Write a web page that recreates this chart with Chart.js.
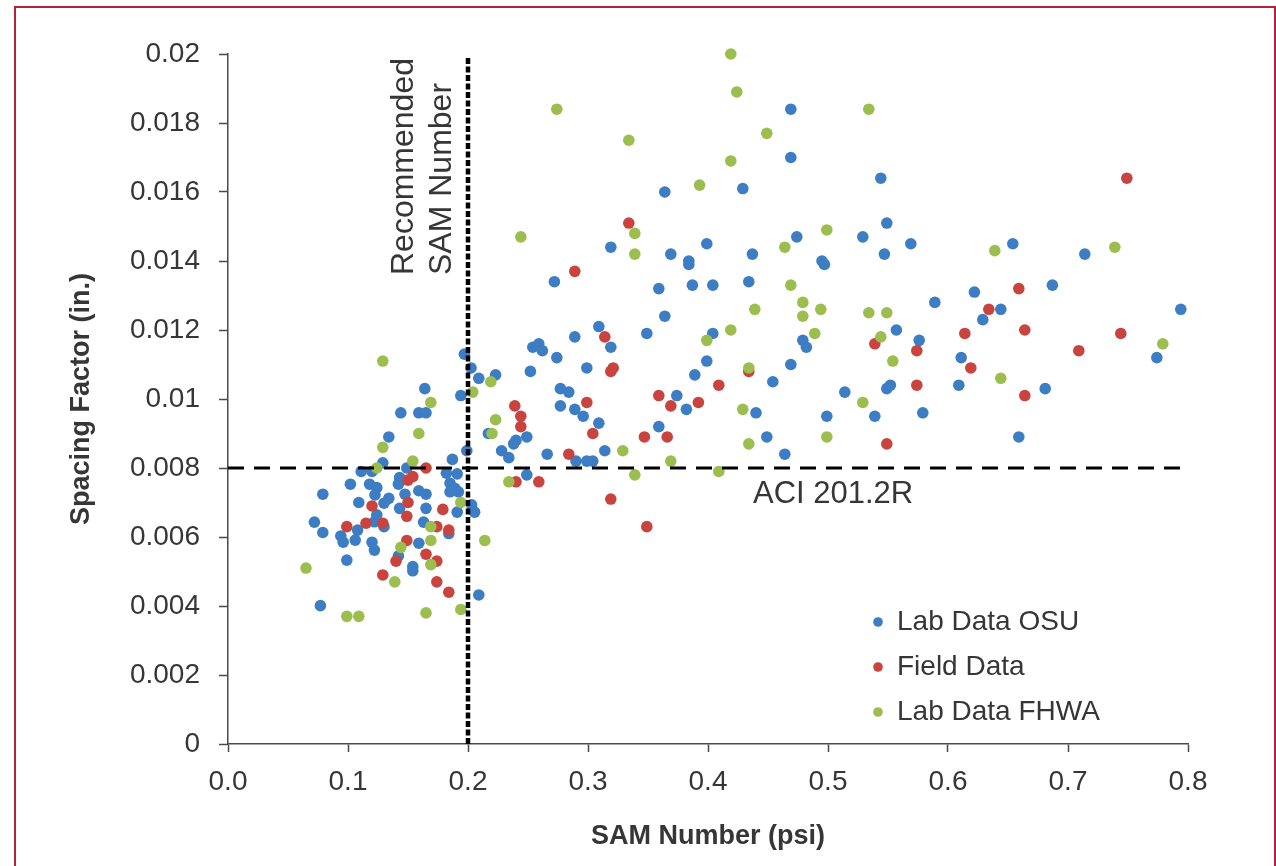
<!DOCTYPE html>
<html>
<head>
<meta charset="utf-8">
<script src="https://cdn.jsdelivr.net/npm/chart.js@4.4.1/dist/chart.umd.min.js"></script>
<style>
  html, body { margin: 0; padding: 0; background: #ffffff; }
  #wrap { position: relative; width: 1276px; height: 866px; overflow: hidden; }
  #c { position: absolute; left: 0; top: 0; }
  #frame { position: absolute; left: 14px; top: 6px; width: 1258px; height: 900px;
           border: 2px solid #B5203A; pointer-events: none; }
</style>
</head>
<body>
<div id="wrap">
  <canvas id="c" width="1276" height="866"></canvas>
  <div id="frame"></div>
</div>
<script>
// ---------------- data ----------------
const xTickValues = [0, 0.1, 0.2, 0.3, 0.4, 0.5, 0.6, 0.7, 0.8];
const xTickLabels = ['0.0', '0.1', '0.2', '0.3', '0.4', '0.5', '0.6', '0.7', '0.8'];
const yTickValues = [0, 0.002, 0.004, 0.006, 0.008, 0.01, 0.012, 0.014, 0.016, 0.018, 0.02];
const yTickLabels = ['0', '0.002', '0.004', '0.006', '0.008', '0.01', '0.012', '0.014', '0.016', '0.018', '0.02'];

const seriesNames = ['Lab Data OSU', 'Field Data', 'Lab Data FHWA'];

// [SAM Number (psi), Spacing Factor (in.)]
const labDataOSU = [
  [0.197,0.0113],[0.2025,0.0109],[0.209,0.0106],[0.223,0.0107],[0.164,0.0103],[0.194,0.0101],
  [0.144,0.0096],[0.159,0.0096],[0.165,0.0096],[0.217,0.0090],[0.228,0.0085],[0.134,0.0089],
  [0.199,0.0085],[0.129,0.00815],[0.187,0.00825],[0.111,0.0079],[0.120,0.0079],[0.149,0.0080],
  [0.182,0.00785],[0.191,0.00783],[0.102,0.00753],[0.118,0.00753],[0.124,0.00743],[0.143,0.00772],
  [0.142,0.00753],[0.159,0.00734],[0.165,0.00724],[0.185,0.00756],[0.189,0.00741],[0.185,0.00731],
  [0.192,0.00731],[0.079,0.00724],[0.1225,0.00722],[0.109,0.0070],[0.134,0.00712],[0.130,0.00698],
  [0.1475,0.00724],[0.143,0.00683],[0.165,0.00683],[0.203,0.00693],[0.2055,0.00672],[0.191,0.00672],
  [0.124,0.00664],[0.072,0.00643],[0.122,0.00644],[0.163,0.00643],[0.184,0.0061],[0.079,0.00613],
  [0.094,0.00603],[0.096,0.00585],[0.108,0.0062],[0.106,0.00591],[0.120,0.00585],[0.122,0.00562],
  [0.159,0.00582],[0.142,0.00545],[0.099,0.00533],[0.154,0.00514],[0.154,0.00502],[0.209,0.00432],
  [0.077,0.00401],[0.130,0.0063],
  [0.319,0.0144],[0.369,0.0142],[0.384,0.0140],[0.384,0.0139],[0.272,0.0134],[0.387,0.0133],
  [0.359,0.0132],[0.364,0.0124],[0.309,0.0121],[0.289,0.0118],[0.349,0.0119],[0.319,0.0115],
  [0.254,0.0115],[0.259,0.0116],[0.262,0.0114],[0.274,0.0112],[0.299,0.0109],[0.252,0.0108],
  [0.389,0.0107],[0.277,0.0103],[0.284,0.0102],[0.374,0.0101],[0.382,0.0097],[0.277,0.0098],
  [0.289,0.0097],[0.296,0.0095],[0.309,0.0093],[0.249,0.0089],[0.240,0.0088],[0.238,0.0087],
  [0.234,0.0083],[0.266,0.0084],[0.290,0.0082],[0.299,0.0082],[0.304,0.0082],[0.314,0.0085],
  [0.359,0.0092],[0.249,0.0078],[0.364,0.0160],
  [0.469,0.0184],[0.469,0.0170],[0.544,0.0164],[0.429,0.0161],[0.549,0.0151],[0.474,0.0147],
  [0.529,0.0147],[0.569,0.0145],[0.399,0.0145],[0.437,0.0142],[0.547,0.0142],[0.495,0.0140],
  [0.497,0.0139],[0.404,0.0133],[0.434,0.0134],[0.589,0.0128],[0.557,0.0120],[0.404,0.0119],
  [0.399,0.0111],[0.469,0.0110],[0.479,0.0117],[0.482,0.0115],[0.454,0.0105],[0.440,0.0096],
  [0.449,0.0089],[0.464,0.0084],[0.499,0.0095],[0.514,0.0102],[0.539,0.0095],[0.549,0.0103],
  [0.552,0.0104],[0.576,0.0117],[0.579,0.0096],
  [0.609,0.0104],[0.654,0.0145],[0.714,0.0142],[0.687,0.0133],[0.622,0.0131],[0.644,0.0126],
  [0.629,0.0123],[0.794,0.0126],[0.774,0.0112],[0.611,0.0112],[0.681,0.0103],[0.659,0.0089]
];

const fieldData = [
  [0.165,0.0080],[0.150,0.00765],[0.154,0.00775],[0.150,0.0070],[0.120,0.0069],[0.179,0.0068],
  [0.149,0.0066],[0.099,0.0063],[0.115,0.0064],[0.129,0.0064],[0.174,0.0063],[0.184,0.0062],
  [0.149,0.0059],[0.165,0.0055],[0.140,0.0053],[0.174,0.0053],[0.129,0.0049],[0.174,0.0047],
  [0.184,0.0044],
  [0.334,0.0151],[0.289,0.0137],[0.314,0.0118],[0.321,0.0109],[0.319,0.0108],[0.359,0.0101],
  [0.392,0.0099],[0.369,0.0098],[0.239,0.0098],[0.244,0.0095],[0.244,0.0092],[0.299,0.0099],
  [0.304,0.0090],[0.284,0.0084],[0.347,0.0089],[0.366,0.0089],[0.240,0.0076],[0.259,0.0076],
  [0.319,0.0071],[0.349,0.0063],
  [0.409,0.0104],[0.434,0.0108],[0.549,0.0087],[0.539,0.0116],[0.574,0.0114],[0.574,0.0104],
  [0.749,0.0164],[0.659,0.0132],[0.634,0.0126],[0.614,0.0119],[0.664,0.0120],[0.744,0.0119],
  [0.709,0.0114],[0.619,0.0109],[0.664,0.0101]
];

const labDataFHWA = [
  [0.129,0.0111],[0.219,0.0105],[0.204,0.0102],[0.169,0.0099],[0.223,0.0094],[0.220,0.0090],
  [0.159,0.0090],[0.129,0.0086],[0.154,0.0082],[0.124,0.0080],[0.194,0.0070],[0.169,0.0063],
  [0.169,0.0059],[0.144,0.0057],[0.214,0.0059],[0.169,0.0052],[0.065,0.0051],[0.139,0.0047],
  [0.099,0.0037],[0.109,0.0037],[0.165,0.0038],[0.194,0.0039],
  [0.339,0.0148],[0.339,0.0142],[0.244,0.0147],[0.329,0.0085],[0.369,0.0082],[0.339,0.0078],
  [0.234,0.0076],[0.274,0.0184],[0.334,0.0175],[0.393,0.0162],
  [0.419,0.0200],[0.424,0.0189],[0.534,0.0184],[0.449,0.0177],[0.419,0.0169],[0.499,0.0149],
  [0.464,0.0144],[0.469,0.0133],[0.479,0.0128],[0.479,0.0124],[0.439,0.0126],[0.494,0.0126],
  [0.534,0.0125],[0.549,0.0125],[0.419,0.0120],[0.399,0.0117],[0.434,0.0109],[0.489,0.0119],
  [0.429,0.0097],[0.434,0.0087],[0.499,0.0089],[0.529,0.0099],[0.554,0.0111],[0.544,0.0118],
  [0.409,0.0079],
  [0.639,0.0143],[0.739,0.0144],[0.779,0.0116],[0.644,0.0106]
];

// reference lines
const recommendedSamLine = [[0.2, 0], [0.2, 0.0199]];
const aciLine = [[0, 0.008], [0.8, 0.008]];
const annotationTexts = ['Recommended', 'SAM Number', 'ACI 201.2R'];

// ---------------- chart ----------------
const FONT = "'Liberation Sans', Arial, Helvetica, sans-serif";
const TEXT = '#363636';
const AXIS = '#4a4a4a';
const colors = ['#3C7DC4', '#C9433F', '#9BBE4F'];
const toXY = arr => arr.map(p => ({ x: p[0], y: p[1] }));

const pointSets = [labDataOSU, fieldData, labDataFHWA];
const datasets = pointSets.map((set, i) => ({
  label: seriesNames[i],
  data: toXY(set),
  backgroundColor: colors[i],
  borderWidth: 0,
  pointRadius: 5.8,
  pointHoverRadius: 5.8,
  showLine: false,
  clip: 10,
  order: 4 - i
}));
datasets.push({
  label: '_vline', data: toXY(recommendedSamLine), showLine: true, pointRadius: 0,
  borderColor: '#000', borderWidth: 4.5, borderDash: [6, 2.5], order: 0
});
datasets.push({
  label: '_hline', data: toXY(aciLine), showLine: true, pointRadius: 0,
  borderColor: '#000', borderWidth: 3, borderDash: [16, 10], order: 0
});

const overlayPlugin = {
  id: 'overlay',
  afterDraw(chart) {
    const ctx = chart.ctx;
    const xs = chart.scales.x, ys = chart.scales.y;
    ctx.save();
    // rotated annotation next to vertical line
    ctx.fillStyle = TEXT;
    ctx.font = '32px ' + FONT;
    ctx.textAlign = 'left';
    ctx.textBaseline = 'middle';
    const baseY = 275;
    const vx = xs.getPixelForValue(recommendedSamLine[0][0]);
    [[annotationTexts[0], vx - 64], [annotationTexts[1], vx - 26]].forEach(([t, px]) => {
      ctx.save();
      ctx.translate(px, baseY);
      ctx.rotate(-Math.PI / 2);
      ctx.fillText(t, 0, 0);
      ctx.restore();
    });
    // ACI label
    const hy = ys.getPixelForValue(aciLine[0][1]);
    ctx.font = '31px ' + FONT;
    ctx.fillText(annotationTexts[2], 753, hy + 26);

    // legend
    ctx.font = '28px ' + FONT;
    const legX = 878, legY0 = 622, legStep = 45;
    seriesNames.forEach((name, i) => {
      const y = legY0 + i * legStep;
      ctx.beginPath();
      ctx.fillStyle = colors[i];
      ctx.arc(legX, y, 4.8, 0, Math.PI * 2);
      ctx.fill();
      ctx.fillStyle = TEXT;
      ctx.fillText(name, legX + 19, y);
    });
    ctx.restore();
  }
};

new Chart(document.getElementById('c'), {
  type: 'scatter',
  data: { datasets },
  options: {
    responsive: false,
    animation: false,
    devicePixelRatio: 1,
    events: [],
    layout: { padding: { left: 0, top: 54, right: 88, bottom: 0 } },
    plugins: { legend: { display: false }, tooltip: { enabled: false } },
    scales: {
      x: {
        type: 'linear', min: 0, max: 0.8,
        afterBuildTicks: s => { s.ticks = xTickValues.map(v => ({ value: v })); },
        afterFit: s => { s.height = 122; },
        ticks: {
          callback: (v, i) => xTickLabels[i],
          font: { family: FONT, size: 28 }, color: TEXT, padding: 13, maxRotation: 0, autoSkip: false
        },
        grid: { drawOnChartArea: false, drawTicks: true, tickLength: 8, tickColor: AXIS, tickWidth: 1.5 },
        border: { display: true, color: AXIS, width: 1.5 },
        title: { display: true, text: 'SAM Number (psi)', color: TEXT,
                 font: { family: FONT, size: 27, weight: 'bold' }, padding: { top: 0, bottom: 13 } }
      },
      y: {
        type: 'linear', min: 0, max: 0.02,
        afterBuildTicks: s => { s.ticks = yTickValues.map(v => ({ value: v })); },
        afterFit: s => { s.width = 228; },
        ticks: {
          callback: (v, i) => yTickLabels[i],
          font: { family: FONT, size: 28 }, color: TEXT, padding: 19, autoSkip: false
        },
        grid: { drawOnChartArea: false, drawTicks: true, tickLength: 9, tickColor: AXIS, tickWidth: 1.5 },
        border: { display: true, color: AXIS, width: 1.5 },
        title: { display: true, text: 'Spacing Factor (in.)', color: TEXT,
                 font: { family: FONT, size: 27, weight: 'bold' }, padding: { top: 65, bottom: 0 } }
      }
    }
  },
  plugins: [overlayPlugin]
});
</script>
</body>
</html>
